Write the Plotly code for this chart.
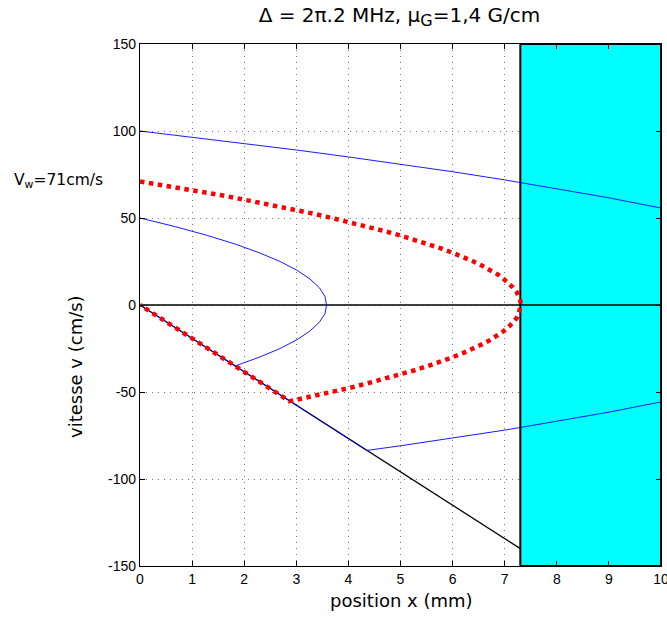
import plotly.graph_objects as go

# ---- data ----
wall_x = 7.3            # start of the cyan region (mm)
x_range = [0, 10]
y_range = [-150, 150]
x_ticks = [0, 1, 2, 3, 4, 5, 6, 7, 8, 9, 10]
y_ticks = [-150, -100, -50, 0, 50, 100, 150]

# black straight line (capture limit)
line_x = [0, 7.3]
line_v = [0, -140]

# blue trajectory starting at 100 cm/s (upper part)
blue1_x = [0, 1, 2, 3, 4, 5, 6, 7, 7.3, 8, 9, 10]
blue1_v = [100, 96.5, 92.8, 89.1, 85.1, 80.9, 76.6, 71.9, 70.4, 66.9, 61.6, 55.7]

# blue trajectory along the straight line then decelerating (lower part)
blue2_x = [0, 1, 2, 3, 4.35, 5, 6, 7, 7.3, 8, 9, 10]
blue2_v = [0, -19.2, -38.4, -57.6, -83.6, -80.9, -76.6, -71.9, -70.4, -66.9, -61.6, -55.7]

# blue trajectory starting at 50 cm/s
blue3_x = [0, 0.68, 1.29, 1.83, 2.29, 2.69, 3.01, 3.26, 3.44, 3.55, 3.58,
           3.55, 3.44, 3.26, 3.01, 2.69, 2.29, 1.83]
blue3_v = [50, 45, 40, 35, 30, 25, 20, 15, 10, 5, 0,
           -5, -10, -15, -20, -25, -30, -35]

# red dotted trajectory starting at V_w = 71 cm/s
red_x = [0, 0.6, 1.18, 1.65, 2.09, 2.52, 2.92, 3.31, 3.68, 4.03, 4.37, 4.69, 4.99,
         5.27, 5.53, 5.78, 6.00, 6.21, 6.40, 6.57, 6.73, 6.87, 6.98, 7.08, 7.16,
         7.23, 7.27, 7.30, 7.31,
         7.30, 7.27, 7.23, 7.16, 7.08, 6.98, 6.87, 6.73, 6.57, 6.40, 6.21, 6.00,
         5.78, 5.53, 5.27, 4.99, 4.69, 4.37, 4.03, 3.68, 3.31, 2.92, 2.87,
         2, 1, 0]
red_v = [71, 68.1, 65, 62.6, 60, 57.6, 55, 52.6, 50, 47.6, 45, 42.5, 40,
         37.5, 35, 32.5, 30, 27.5, 25, 22.5, 20, 17.5, 15, 12.5, 10,
         7.5, 5, 2.5, 0,
         -2.5, -5, -7.5, -10, -12.5, -15, -17.5, -20, -22.5, -25, -27.5, -30,
         -32.5, -35, -37.5, -40, -42.5, -45, -47.6, -50, -52.6, -55, -55.3,
         -38.4, -19.2, 0]

title_text = "Δ = 2π.2 MHz, μ<sub><span style='font-size:16px'>G</span></sub>=1,4 G/cm"
vw_text = "V<sub>w</sub>=71cm/s"
vw_value = 71
x_title = "position x (mm)"
y_title = "vitesse v (cm/s)"

FONT = "Liberation Sans, Arial, sans-serif"
BIG = "DejaVu Sans, Liberation Sans, sans-serif"

# plot area geometry (pixels)
W, H = 667, 618
L, R, T, B = 140, 6, 44, 52
PW, PH = W - L - R, H - T - B


def px_to_paper_x(px):
    return (px - L) / PW


def px_to_paper_y(py):
    return (H - B - py) / PH


fig = go.Figure()

# horizontal zero line across the whole axis
fig.add_trace(go.Scatter(x=x_range, y=[0, 0], mode="lines",
                         line=dict(color="black", width=1.5), hoverinfo="skip"))
# black straight line
fig.add_trace(go.Scatter(x=line_x, y=line_v, mode="lines",
                         line=dict(color="black", width=1.3)))
# blue trajectories
for bx, bv in [(blue1_x, blue1_v), (blue2_x, blue2_v), (blue3_x, blue3_v)]:
    fig.add_trace(go.Scatter(x=bx, y=bv, mode="lines",
                             line=dict(color="#0000FF", width=0.9)))
# red dotted trajectory
fig.add_trace(go.Scatter(x=red_x, y=red_v, mode="lines",
                         line=dict(color="#FF0000", width=4.5, dash="dot")))

# cyan region
fig.add_shape(type="rect", xref="x", yref="y",
              x0=wall_x, x1=x_range[1], y0=y_range[0], y1=y_range[1],
              fillcolor="#00FFFF", line=dict(color="black", width=2),
              layer="between")

axis_common = dict(
    showline=True, linecolor="black", linewidth=1.2, mirror="ticks",
    ticks="inside", ticklen=5, tickcolor="black", tickwidth=1,
    showgrid=True, gridcolor="#777777", griddash="1px,5px", gridwidth=1,
    zeroline=False,
    tickfont=dict(family=FONT, size=14, color="black"),
    ticklabeloverflow="allow",
)

fig.update_xaxes(range=x_range, tickvals=x_ticks, ticktext=[str(t) for t in x_ticks],
                 **axis_common)
fig.update_yaxes(range=y_range, tickvals=y_ticks, ticktext=[str(t) for t in y_ticks],
                 **axis_common)

fig.add_annotation(text=y_title, xref="paper", yref="paper",
                   x=px_to_paper_x(75), y=px_to_paper_y(367), textangle=-90,
                   showarrow=False,
                   font=dict(family=BIG, size=18, color="black"),
                   xanchor="center", yanchor="middle")
fig.add_annotation(text=x_title, xref="paper", yref="paper",
                   x=px_to_paper_x(401), y=px_to_paper_y(600), showarrow=False,
                   font=dict(family=BIG, size=18, color="black"),
                   xanchor="center", yanchor="middle")
fig.add_annotation(text=vw_text, xref="paper", yref="y",
                   x=px_to_paper_x(12), y=vw_value, showarrow=False, xanchor="left",
                   yanchor="middle",
                   font=dict(family=BIG, size=15.5, color="black"))

fig.update_layout(
    width=W, height=H,
    margin=dict(l=L, r=R, t=T, b=B, autoexpand=False),
    paper_bgcolor="white", plot_bgcolor="white",
    showlegend=False,
    title=dict(text=title_text, x=px_to_paper_x(399.5), xref="paper", xanchor="center",
               y=1 - 15 / H, yanchor="middle",
               font=dict(family=BIG, size=20, color="black")),
)

fig.write_html(
    "out.html",
    config={"displayModeBar": False},
    post_script="document.body.style.margin='0px';"
                "document.body.style.overflow='hidden';",
)
